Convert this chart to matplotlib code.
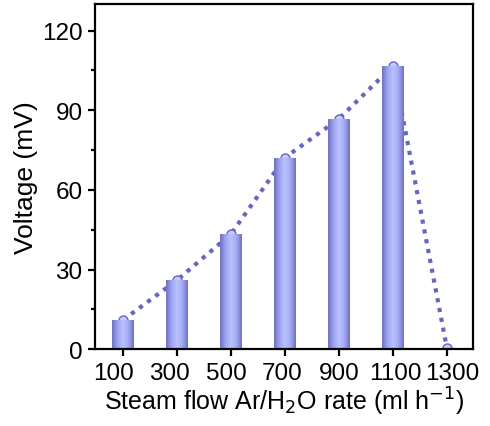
import matplotlib.pyplot as plt
import numpy as np
from matplotlib.colors import LinearSegmentedColormap
from matplotlib.transforms import ScaledTranslation

plt.rcParams['font.family'] = ['Liberation Sans', 'DejaVu Sans']

flow_rates = ['100', '300', '500', '700', '900', '1100', '1300']
voltage = [11.0, 26.0, 43.4, 72.2, 86.8, 106.7, 0.3]

line_color = '#6666BE'
bar_cmap = LinearSegmentedColormap.from_list(
    'bar', ['#6D6FC2', '#9DA4EE', '#B9C2FF', '#A3AAF2', '#6D6FC2'])

fig = plt.figure(figsize=(4.9, 4.27), dpi=100)
ax = fig.add_axes([0.194, 0.18, 0.771, 0.808])

x = np.arange(len(flow_rates))
bars = ax.bar(x, voltage, width=0.4, color='none', edgecolor='none', zorder=2)

# horizontal gradient fill for each bar
grad = np.linspace(0, 1, 256).reshape(1, -1)
for b in bars:
    x0, y0 = b.get_x(), b.get_y()
    w, h = b.get_width(), b.get_height()
    im = ax.imshow(grad, cmap=bar_cmap, aspect='auto',
                   extent=[x0, x0 + w, y0, y0 + h], zorder=2)
    im.set_clip_path(b)

# line sits behind the bars, so only the top of each marker shows
ax.plot(x, voltage, linestyle=(0, (1.0, 1.4)), color=line_color, lw=3.0,
        marker='o', ms=6.5, mfc='#C4CAFA', mec='#6666BE', mew=1.0, zorder=1)

ax.set_xlim(-0.52, 6.48)
ax.set_ylim(0, 130)
ax.set_xticks(x)
ax.set_xticklabels(flow_rates)
ax.set_yticks([0, 30, 60, 90, 120])
ax.set_yticks([15, 45, 75, 105], minor=True)

for s in ax.spines.values():
    s.set_linewidth(1.6)
ax.tick_params(axis='both', which='major', labelsize=17.5, length=5, width=1.6,
               direction='out')
ax.tick_params(axis='x', pad=4)
ax.tick_params(axis='y', pad=4)
ax.tick_params(axis='y', which='minor', length=3, width=1.6, direction='out')

# labels in the original are spread a little wider than the ticks
n = len(flow_rates)
for i, lbl in enumerate(ax.get_xticklabels()):
    dx = (-10 + 2.5 * i) / 100
    lbl.set_transform(lbl.get_transform() + ScaledTranslation(dx, 0, fig.dpi_scale_trans))

ax.set_xlabel('Steam flow Ar/H$_2$O rate (ml h$^{-1}$)', fontsize=18, labelpad=1)
ax.set_ylabel('Voltage (mV)', fontsize=19, labelpad=3)

fig.savefig('out.png', dpi=100)
